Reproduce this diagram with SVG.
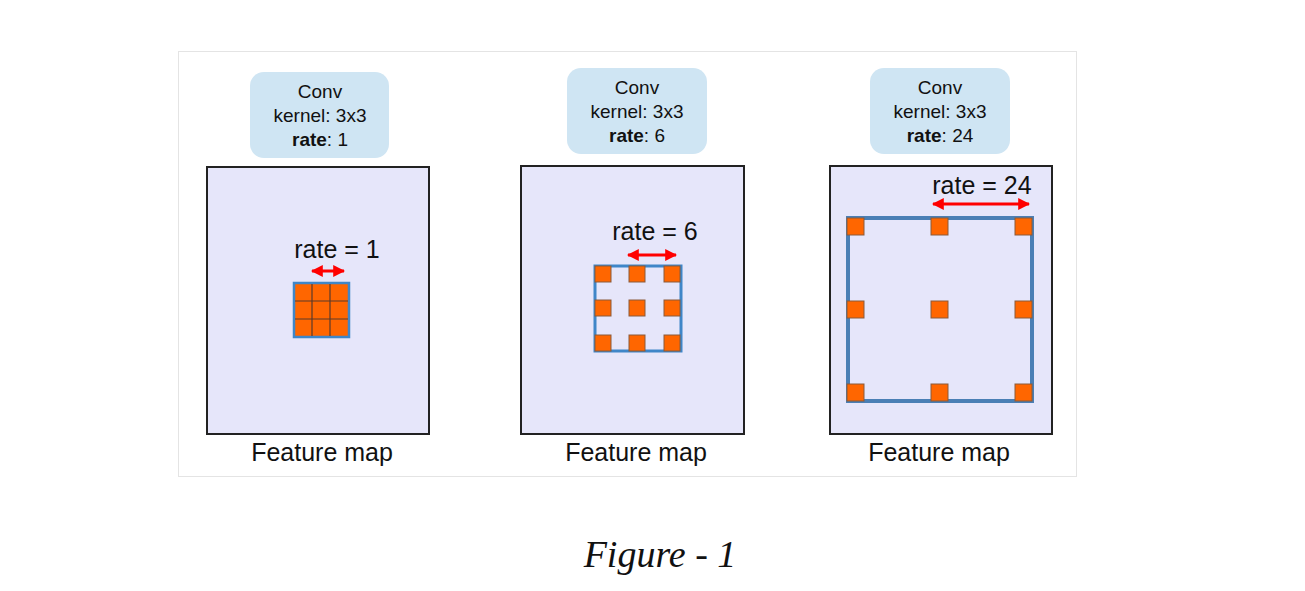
<svg xmlns="http://www.w3.org/2000/svg" width="1305" height="591" viewBox="0 0 1305 591">
<defs>
<style>
text{font-family:"Liberation Sans",Arial,sans-serif;fill:#111;text-anchor:middle}
.lbl{fill:#cfe5f3}
.map{fill:#e6e6fa;stroke:#222;stroke-width:2}
.grid{fill:none;stroke:#3f86c8;stroke-width:3}
.k{fill:#ff6600;stroke:#8a5a3a;stroke-width:1}
.arr{stroke:#ff0000;stroke-width:3;marker-start:url(#a);marker-end:url(#a)}
.t{font-size:19px}
.r{font-size:25px}
.f{font-size:25px}
</style>
<marker id="a" viewBox="0 0 10 10" refX="9" refY="5" markerWidth="4" markerHeight="4" orient="auto-start-reverse"><path d="M0,0L10,5L0,10z" fill="#ff0000"/></marker>
</defs>
<rect width="1305" height="591" fill="#fff"/>
<rect x="178.5" y="51.5" width="898" height="425" fill="#fff" stroke="#e4e4e4"/>
<g id="panel1">
<rect class="lbl" x="250" y="72" width="139" height="86" rx="14"/>
<text class="t" x="320" y="98">Conv</text>
<text class="t" x="320" y="122">kernel: 3x3</text>
<text class="t" x="320" y="146"><tspan font-weight="bold">rate</tspan>: 1</text>
<rect class="map" x="207" y="167" width="222" height="267"/>
<text class="r" x="337" y="258">rate = 1</text>
<rect x="294" y="283" width="55" height="54" fill="#ff6600" stroke="#3f86c8" stroke-width="2.5"/>
<path d="M312,284V336M330,284V336M295,301H348M295,319H348" stroke="#5a3a2a" stroke-width="1.2"/>
<text class="f" x="322" y="461">Feature map</text>
</g>
<g id="panel2">
<rect class="lbl" x="567" y="68" width="140" height="86" rx="14"/>
<text class="t" x="637" y="94">Conv</text>
<text class="t" x="637" y="118">kernel: 3x3</text>
<text class="t" x="637" y="142"><tspan font-weight="bold">rate</tspan>: 6</text>
<rect class="map" x="521" y="166" width="223" height="268"/>
<text class="r" x="655" y="240">rate = 6</text>
<rect class="grid" x="595" y="266" width="86" height="85"/>
<g>
<rect class="k" x="595" y="266" width="16" height="16"/><rect class="k" x="629" y="266" width="16" height="16"/><rect class="k" x="664" y="266" width="16" height="16"/>
<rect class="k" x="595" y="300" width="16" height="16"/><rect class="k" x="629" y="300" width="16" height="16"/><rect class="k" x="664" y="300" width="16" height="16"/>
<rect class="k" x="595" y="335" width="16" height="16"/><rect class="k" x="629" y="335" width="16" height="16"/><rect class="k" x="664" y="335" width="16" height="16"/>
</g>
<text class="f" x="636" y="461">Feature map</text>
</g>
<g id="panel3">
<rect class="lbl" x="870" y="68" width="140" height="86" rx="14"/>
<text class="t" x="940" y="94">Conv</text>
<text class="t" x="940" y="118">kernel: 3x3</text>
<text class="t" x="940" y="142"><tspan font-weight="bold">rate</tspan>: 24</text>
<rect class="map" x="830" y="166" width="222" height="268"/>
<text class="r" x="982" y="194">rate = 24</text>
<rect x="848" y="218" width="184" height="183" fill="none" stroke="#4a7fb5" stroke-width="4"/>
<g>
<rect class="k" x="847" y="218" width="17" height="17"/><rect class="k" x="931" y="218" width="17" height="17"/><rect class="k" x="1015" y="218" width="17" height="17"/>
<rect class="k" x="847" y="301" width="17" height="17"/><rect class="k" x="931" y="301" width="17" height="17"/><rect class="k" x="1015" y="301" width="17" height="17"/>
<rect class="k" x="847" y="384" width="17" height="17"/><rect class="k" x="931" y="384" width="17" height="17"/><rect class="k" x="1015" y="384" width="17" height="17"/>
</g>
<text class="f" x="939" y="461">Feature map</text>
</g>
<g id="connectors">
<line class="arr" x1="312" y1="271" x2="344" y2="271"/>
<line class="arr" x1="628" y1="255" x2="676" y2="255"/>
<line class="arr" x1="933" y1="204" x2="1029" y2="204"/>
</g>
<text x="660" y="567" style="font-family:'Liberation Serif','Times New Roman',serif;font-style:italic;font-size:38px">Figure - 1</text>
</svg>
